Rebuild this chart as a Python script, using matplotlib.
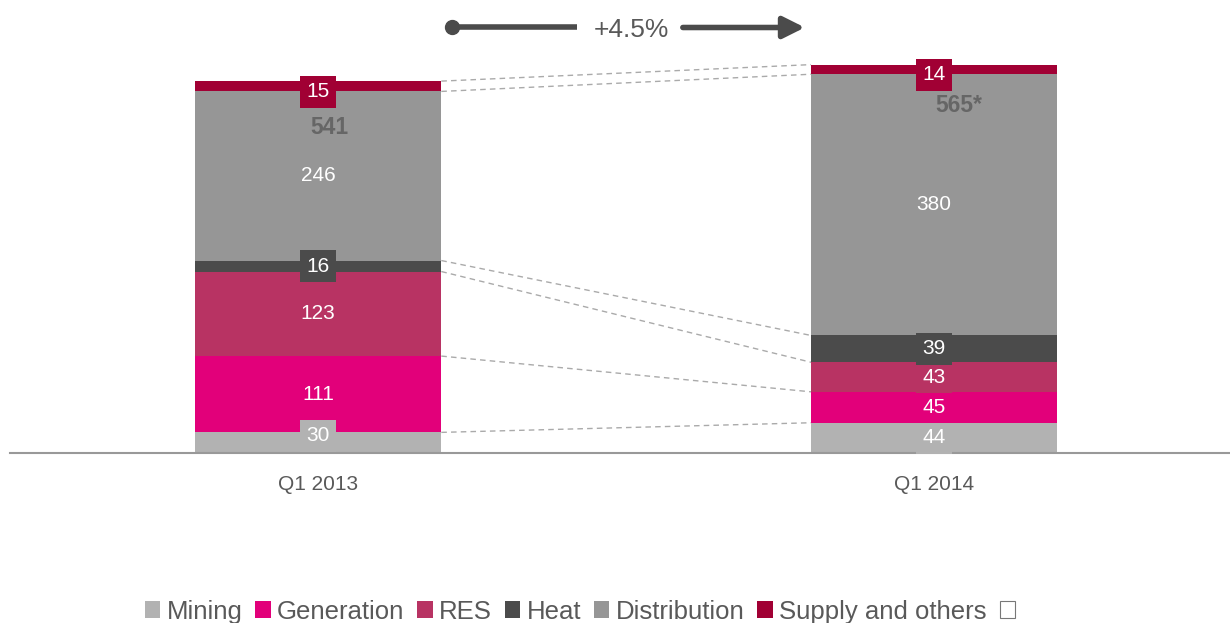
import matplotlib
matplotlib.use('Agg')
import matplotlib.pyplot as plt
from matplotlib.patches import Patch
import numpy as np

plt.rcParams['font.family'] = ['Liberation Sans', 'DejaVu Sans']

periods = ['Q1 2013', 'Q1 2014']
segments = ['Mining', 'Generation', 'RES', 'Heat', 'Distribution', 'Supply and others']
values = {
    'Mining': [30, 44],
    'Generation': [111, 45],
    'RES': [123, 43],
    'Heat': [16, 39],
    'Distribution': [246, 380],
    'Supply and others': [15, 14],
}
totals = ['541', '565*']
growth = '+4.5%'

colors = {
    'Mining': '#b2b2b2',
    'Generation': '#e2007a',
    'RES': '#b83363',
    'Heat': '#4b4b4b',
    'Distribution': '#969696',
    'Supply and others': '#a10034',
}
txt = '#595959'

fig = plt.figure(figsize=(12.3, 6.23), dpi=100)
ax = fig.add_axes([10 / 1230, 170 / 623, 1220 / 1230, 453 / 623])

x = np.arange(len(periods))
w = 0.4
bottom = np.zeros(len(periods))
bounds = []
for seg in segments:
    v = np.array(values[seg], dtype=float)
    ax.bar(x, v, w, bottom=bottom, color=colors[seg], linewidth=0, zorder=2)
    for i in range(len(x)):
        # small labels on the thin top segment sit a little lower, like the source
        dy = -8 if seg == 'Supply and others' else (10 if seg == 'Mining' and i == 0 else 0)
        ax.text(x[i], bottom[i] + v[i] / 2 + dy, str(values[seg][i]), ha='center', va='center',
                color='white', fontsize=15, zorder=4,
                bbox=dict(boxstyle='square,pad=0.3', fc=colors[seg], ec='none'))
    bottom = bottom + v
    bounds.append(bottom.copy())

# dashed connectors between segment boundaries
for b in bounds:
    ax.plot([x[0] + w / 2, x[1] - w / 2], [b[0], b[1]], ls=(0, (4, 3)), color='#aaaaaa', lw=1, zorder=1)

# totals
for i in range(len(x)):
    ax.text(x[i] + 0.018 + 0.022 * i, bottom[i] - 68 + 9 * i, totals[i], ha='center', va='center',
            color='#666666', fontsize=16.5, fontweight='bold', zorder=3)

# growth arrow
ya = 619
ax.plot([0.2175, 0.42], [ya, ya], color='#4b4b4b', lw=4, solid_capstyle='butt')
ax.plot([0.2175], [ya], 'o', color='#4b4b4b', ms=10)
ax.annotate('', xy=(0.79, ya), xytext=(0.592, ya),
            arrowprops=dict(arrowstyle='-|>,head_length=1.3,head_width=0.65', color='#4b4b4b', lw=4,
                            shrinkA=0, shrinkB=0))
ax.text(0.508, ya - 3, growth, ha='center', va='center', fontsize=19, color=txt)

ax.set_xlim(-0.5, 1.48)
ax.set_ylim(0, 659)
ax.set_xticks(x)
ax.set_xticklabels(periods, fontsize=15, color=txt)
ax.tick_params(axis='x', length=0, pad=16)
ax.set_yticks([])
for s in ['top', 'right', 'left']:
    ax.spines[s].set_visible(False)
ax.spines['bottom'].set_color('#999999')
ax.spines['bottom'].set_linewidth(1.5)

handles = [Patch(facecolor=colors[s], edgecolor='none') for s in segments]
handles.append(Patch(facecolor='white', edgecolor='#777777', linewidth=0.8))
labels = segments + ['']
fig.legend(handles, labels, loc='lower center', bbox_to_anchor=(583 / 1230, -0.038), ncol=7,
           frameon=False, fontsize=18.5, labelcolor=txt, handlelength=0.6, handleheight=0.6,
           handletextpad=0.25, columnspacing=0.5)

fig.savefig('out.png', dpi=100)
